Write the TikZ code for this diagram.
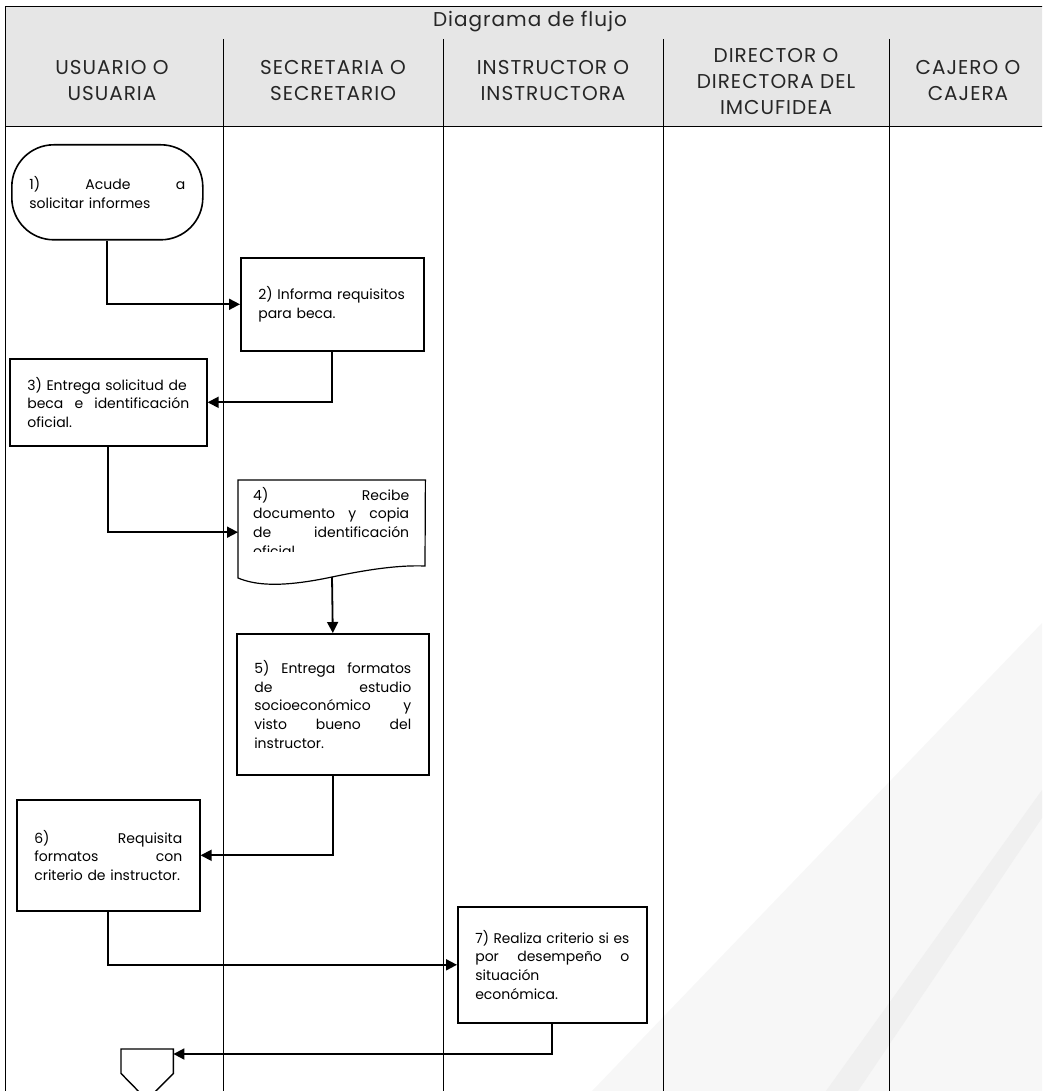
\documentclass[tikz,border=0pt]{standalone}
\usepackage{fontspec}
\setmainfont{Poppins}
\newfontfamily\headfont[LetterSpace=5]{Poppins}
\usetikzlibrary{arrows.meta,calc}

\definecolor{headfill}{HTML}{E6E6E6}
\definecolor{markA}{HTML}{F7F7F7}
\definecolor{markB}{HTML}{F0F0F0}

\tikzset{
  lane/.style={line width=1pt, draw=black},
  headtxt/.style={font=\headfont\fontsize{20}{26}\selectfont, align=center, text=black!85},
  stepbox/.style={draw=black, line width=1.6pt, fill=white, anchor=north west,
    inner xsep=17.5pt, inner ysep=0pt, align=left,
    font=\fontsize{14}{18.7}\selectfont},
  startbox/.style={stepbox, rounded corners=42pt},
  frame/.style={draw=none, anchor=north west, inner sep=0pt},
  flow/.style={line width=1.8pt, -{Triangle[length=11pt,width=11pt]}},
}

\begin{document}
\begin{tikzpicture}[x=1pt,y=-1pt]
\useasboundingbox (0,0) rectangle (1042,1091);
\clip (0,0) rectangle (1042,1091);

% faint background marks
\fill[markA] (1042,623) -- (1042,1091) -- (592,1091) -- cycle;
\fill[markB] (1042,790) -- (1042,818) -- (858,1091) -- (826,1091) -- cycle;

% header band
\fill[headfill] (5,7) rectangle (1045,127);
\draw[lane] (5,7) -- (1045,7);
\draw[lane] (5,127) -- (1045,127);
\draw[lane] (5,7) -- (5,1095);
\foreach \x in {223,443,663,889}
  \draw[lane] (\x,39) -- (\x,1095);

\node[headtxt] (title) at (530,22) {Diagrama de flujo};
\node[headtxt] (h1) at (112,81) {USUARIO O\\USUARIA};
\node[headtxt] (h2) at (333,81) {SECRETARIA O\\SECRETARIO};
\node[headtxt] (h3) at (553,81) {INSTRUCTOR O\\INSTRUCTORA};
\node[headtxt] (h4) at (776,82) {DIRECTOR O\\DIRECTORA DEL\\IMCUFIDEA};
\node[headtxt] (h5) at (968,81) {CAJERO O\\CAJERA};

% steps
\node[startbox, minimum width=191pt, minimum height=95pt, text width=156pt] (n1) at (11,144)
  {1)\hfill Acude\hfill a\\solicitar informes\\[6pt]};
\node[stepbox, minimum width=183pt, minimum height=93pt, text width=148pt] (n2) at (240,257)
  {2) Informa requisitos\\para beca.};
\node[stepbox, minimum width=197pt, minimum height=87pt, text width=162pt] (n3) at (9,358)
  {3) Entrega solicitud de\\beca\hfill e\hfill identificación\\oficial.\\[6pt]};

% document shape for step 4
\node[frame, minimum width=187pt, minimum height=104pt] (n4) at (238,480) {};
\draw[line width=1.2pt, fill=white]
  (n4.north west) -- (n4.north east) -- (425,566)
  .. controls (400,565) and (370,569) .. (332,577)
  .. controls (280,588) and (255,585) .. (238,578) -- cycle;
\coordinate (n4out) at (332,577);
\begin{scope}
  \clip (238,480) rectangle (425,551.5);
  \node[anchor=north west, inner sep=0pt, text width=156pt, align=left,
        font=\fontsize{14}{18.7}\selectfont] (t4) at (253,487)
    {4)\hfill Recibe\\documento\hfill y\hfill copia\\de\hfill identificación\\oficial};
\end{scope}

\node[stepbox, minimum width=192pt, minimum height=141pt, text width=157pt] (n5) at (236,633)
  {5)\hfill Entrega\hfill formatos\\de\hfill estudio\\socioeconómico\hfill y\\visto\hfill bueno\hfill del\\instructor.\\[8pt]};
\node[stepbox, minimum width=183pt, minimum height=111pt, text width=148pt] (n6) at (16,799)
  {6)\hfill Requisita\\formatos\hfill con\\criterio de instructor.};
\node[stepbox, minimum width=189pt, minimum height=116pt, text width=154pt] (n7) at (457,906)
  {\resizebox{\linewidth}{\height}{7) Realiza criterio si es}\\por\hfill desempeño\hfill o\\situación\\económica.};

% off-page connector
\node[frame, minimum width=52pt, minimum height=24pt] (c8) at (121,1049) {};
\draw[line width=1.4pt, fill=white]
  (c8.north west) -- (c8.north east) -- (c8.south east) -- (147,1100) -- (c8.south west) -- cycle;
\coordinate (c8in) at ($(c8.north east)+(0,5)$);

% connectors
\draw[flow] (n1.south) |- (n2.west);
\draw[flow] (n2.south) |- (n3.east);
\draw[flow] (n3.south) |- (n4.west);
\draw[flow] (n4out) -- (n5.north);
\draw[flow] (n5.south) |- (n6.east);
\draw[flow] (n6.south) |- (n7.west);
\draw[flow] (n7.south) |- (c8in);
\end{tikzpicture}
\end{document}
